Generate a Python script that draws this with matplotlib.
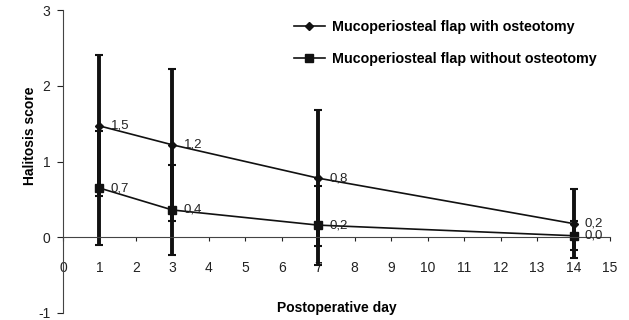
import matplotlib

matplotlib.use("Agg")
import matplotlib.pyplot as plt
from matplotlib.lines import Line2D

plt.rcParams["font.family"] = ["Liberation Sans", "DejaVu Sans"]
plt.rcParams["axes.unicode_minus"] = False

days = [1, 3, 7, 14]
with_ost = [1.47, 1.22, 0.78, 0.18]
with_ost_sd = [0.93, 1.00, 0.90, 0.46]
with_ost_labels = ["1,5", "1,2", "0,8", "0,2"]
without_ost = [0.65, 0.36, 0.16, 0.02]
without_ost_sd = [0.75, 0.60, 0.52, 0.19]
without_ost_labels = ["0,7", "0,4", "0,2", "0,0"]
series_names = ["Mucoperiosteal flap with osteotomy",
                "Mucoperiosteal flap without osteotomy"]

W, H = 629, 320
fig = plt.figure(figsize=(W / 100, H / 100), dpi=100)
ax = fig.add_axes([63 / W, 7 / H, 547 / W, 303 / H])

ink = "#111111"
ax.errorbar(days, with_ost, yerr=with_ost_sd, color=ink, lw=1.2, elinewidth=2.8,
            capsize=3, capthick=1.5, marker="D", ms=4)
ax.errorbar(days, without_ost, yerr=without_ost_sd, color=ink, lw=1.2, elinewidth=2.8,
            capsize=3, capthick=1.5, marker="s", ms=6)

for x, y, t in zip(days, with_ost, with_ost_labels):
    ax.annotate(t, (x, y), xytext=(8, 0), textcoords="offset points",
                va="center", fontsize=9.5, color="#222222")
for x, y, t in zip(days, without_ost, without_ost_labels):
    ax.annotate(t, (x, y), xytext=(8, 0), textcoords="offset points",
                va="center", fontsize=9.5, color="#222222")

ax.set_xlim(0, 15)
ax.set_ylim(-1, 3)
ax.set_xticks(range(0, 16))
ax.set_yticks([-1, 0, 1, 2, 3])
ax.spines["top"].set_visible(False)
ax.spines["right"].set_visible(False)
ax.spines["bottom"].set_position(("data", 0))
for s in ("left", "bottom"):
    ax.spines[s].set_color("#444444")
    ax.spines[s].set_linewidth(0.8)
ax.tick_params(axis="x", direction="out", length=3, pad=14, labelsize=10, colors="#222222")
ax.tick_params(axis="y", direction="out", length=4, pad=5, labelsize=10, colors="#222222")

handles = [Line2D([], [], color=ink, lw=1.2, marker="D", ms=4),
           Line2D([], [], color=ink, lw=1.2, marker="s", ms=6)]
ax.legend(handles, series_names, loc="upper left", bbox_to_anchor=(0.398, 1.01),
          frameon=False, handlelength=2.2, handletextpad=0.5, labelspacing=1.25,
          prop={"weight": "bold", "size": 10.3})

fig.text(337 / W, 1 - 308 / H, "Postoperative day", ha="center", va="center",
         fontsize=10, fontweight="bold")
fig.text(30 / W, 1 - 136 / H, "Halitosis score", ha="center", va="center",
         rotation=90, fontsize=10, fontweight="bold")

fig.savefig("out.png", dpi=100, facecolor="white")
